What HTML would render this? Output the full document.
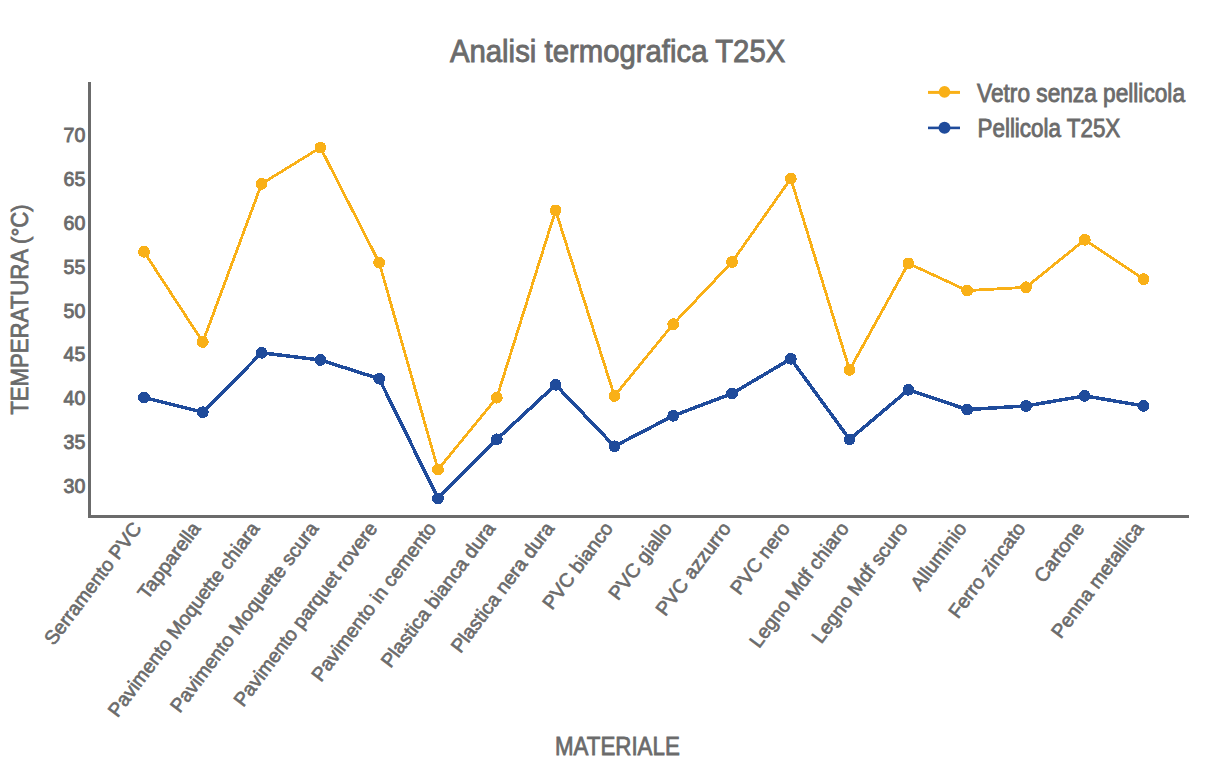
<!DOCTYPE html>
<html><head><meta charset="utf-8"><style>
html,body{margin:0;padding:0;background:#fff;width:1210px;height:774px;overflow:hidden}
svg{display:block}
text{font-family:"Liberation Sans",sans-serif;fill:#6b6b6b;stroke:#6b6b6b;stroke-width:0.65px}
</style></head><body>
<svg width="1210" height="774" viewBox="0 0 1210 774">
<rect width="1210" height="774" fill="#fff"/>

<text transform="translate(449.9,61.9) scale(0.92,1)" font-size="31.9" style="stroke-width:0.9px">Analisi termografica T25X</text>
<rect x="88" y="82" width="3" height="436" fill="#6b6b6b"/><rect x="88" y="515" width="1101" height="3" fill="#6b6b6b"/>
<text transform="translate(85.3,492.8) scale(0.96,1)" font-size="20.4" text-anchor="end" style="stroke-width:0.9px">30</text>
<text transform="translate(85.3,449.0) scale(0.96,1)" font-size="20.4" text-anchor="end" style="stroke-width:0.9px">35</text>
<text transform="translate(85.3,405.2) scale(0.96,1)" font-size="20.4" text-anchor="end" style="stroke-width:0.9px">40</text>
<text transform="translate(85.3,361.4) scale(0.96,1)" font-size="20.4" text-anchor="end" style="stroke-width:0.9px">45</text>
<text transform="translate(85.3,317.6) scale(0.96,1)" font-size="20.4" text-anchor="end" style="stroke-width:0.9px">50</text>
<text transform="translate(85.3,273.8) scale(0.96,1)" font-size="20.4" text-anchor="end" style="stroke-width:0.9px">55</text>
<text transform="translate(85.3,230.0) scale(0.96,1)" font-size="20.4" text-anchor="end" style="stroke-width:0.9px">60</text>
<text transform="translate(85.3,186.2) scale(0.96,1)" font-size="20.4" text-anchor="end" style="stroke-width:0.9px">65</text>
<text transform="translate(85.3,142.4) scale(0.96,1)" font-size="20.4" text-anchor="end" style="stroke-width:0.9px">70</text>
<text transform="translate(27.6,414.75) rotate(-90) scale(0.905,1)" font-size="24.5" style="stroke-width:0.8px">TEMPERATURA (°C)</text>
<text transform="translate(555,754.8) scale(0.865,1)" font-size="25.8" style="stroke-width:0.8px">MATERIALE</text>
<text transform="translate(142.5,528.6) rotate(-53)" font-size="19.5" text-anchor="end">Serramento PVC</text>
<text transform="translate(201.4,528.6) rotate(-53)" font-size="19.5" text-anchor="end">Tapparella</text>
<text transform="translate(260.4,528.6) rotate(-53)" font-size="19.5" text-anchor="end">Pavimento Moquette chiara</text>
<text transform="translate(319.3,528.6) rotate(-53)" font-size="19.5" text-anchor="end">Pavimento Moquette scura</text>
<text transform="translate(378.2,528.6) rotate(-53)" font-size="19.5" text-anchor="end">Pavimento parquet rovere</text>
<text transform="translate(437.1,528.6) rotate(-53)" font-size="19.5" text-anchor="end">Pavimento in cemento</text>
<text transform="translate(496.1,528.6) rotate(-53)" font-size="19.5" text-anchor="end">Plastica bianca dura</text>
<text transform="translate(555.0,528.6) rotate(-53)" font-size="19.5" text-anchor="end">Plastica nera dura</text>
<text transform="translate(613.9,528.6) rotate(-53)" font-size="19.5" text-anchor="end">PVC bianco</text>
<text transform="translate(672.9,528.6) rotate(-53)" font-size="19.5" text-anchor="end">PVC giallo</text>
<text transform="translate(731.8,528.6) rotate(-53)" font-size="19.5" text-anchor="end">PVC azzurro</text>
<text transform="translate(790.7,528.6) rotate(-53)" font-size="19.5" text-anchor="end">PVC nero</text>
<text transform="translate(849.7,528.6) rotate(-53)" font-size="19.5" text-anchor="end">Legno Mdf chiaro</text>
<text transform="translate(908.6,528.6) rotate(-53)" font-size="19.5" text-anchor="end">Legno Mdf scuro</text>
<text transform="translate(967.5,528.6) rotate(-53)" font-size="19.5" text-anchor="end">Alluminio</text>
<text transform="translate(1026.4,528.6) rotate(-53)" font-size="19.5" text-anchor="end">Ferro zincato</text>
<text transform="translate(1085.4,528.6) rotate(-53)" font-size="19.5" text-anchor="end">Cartone</text>
<text transform="translate(1144.3,528.6) rotate(-53)" font-size="19.5" text-anchor="end">Penna metallica</text>
<polyline points="144.0,251.8 202.8,342.0 261.6,183.8 320.4,147.6 379.2,262.6 438.0,469.6 496.8,397.7 555.6,210.4 614.4,396.0 673.2,324.1 732.0,262.1 790.8,178.6 849.6,369.9 908.4,263.4 967.2,290.6 1026.0,287.3 1084.8,239.8 1143.6,279.2" fill="none" stroke="#f9b017" stroke-width="2.8" stroke-linejoin="round" shape-rendering="crispEdges"/>
<polyline points="144.0,397.5 202.8,412.2 261.6,352.8 320.4,360.0 379.2,378.7 438.0,498.4 496.8,439.3 555.6,384.8 614.4,446.3 673.2,415.8 732.0,393.6 790.8,358.8 849.6,439.4 908.4,389.8 967.2,409.6 1026.0,405.9 1084.8,395.9 1143.6,405.9" fill="none" stroke="#1f4b9b" stroke-width="3.5" stroke-linejoin="round" shape-rendering="crispEdges"/>
<circle cx="144.0" cy="251.8" r="5.9" fill="#f9b017" shape-rendering="crispEdges"/>
<circle cx="202.8" cy="342.0" r="5.9" fill="#f9b017" shape-rendering="crispEdges"/>
<circle cx="261.6" cy="183.8" r="5.9" fill="#f9b017" shape-rendering="crispEdges"/>
<circle cx="320.4" cy="147.6" r="5.9" fill="#f9b017" shape-rendering="crispEdges"/>
<circle cx="379.2" cy="262.6" r="5.9" fill="#f9b017" shape-rendering="crispEdges"/>
<circle cx="438.0" cy="469.6" r="5.9" fill="#f9b017" shape-rendering="crispEdges"/>
<circle cx="496.8" cy="397.7" r="5.9" fill="#f9b017" shape-rendering="crispEdges"/>
<circle cx="555.6" cy="210.4" r="5.9" fill="#f9b017" shape-rendering="crispEdges"/>
<circle cx="614.4" cy="396.0" r="5.9" fill="#f9b017" shape-rendering="crispEdges"/>
<circle cx="673.2" cy="324.1" r="5.9" fill="#f9b017" shape-rendering="crispEdges"/>
<circle cx="732.0" cy="262.1" r="5.9" fill="#f9b017" shape-rendering="crispEdges"/>
<circle cx="790.8" cy="178.6" r="5.9" fill="#f9b017" shape-rendering="crispEdges"/>
<circle cx="849.6" cy="369.9" r="5.9" fill="#f9b017" shape-rendering="crispEdges"/>
<circle cx="908.4" cy="263.4" r="5.9" fill="#f9b017" shape-rendering="crispEdges"/>
<circle cx="967.2" cy="290.6" r="5.9" fill="#f9b017" shape-rendering="crispEdges"/>
<circle cx="1026.0" cy="287.3" r="5.9" fill="#f9b017" shape-rendering="crispEdges"/>
<circle cx="1084.8" cy="239.8" r="5.9" fill="#f9b017" shape-rendering="crispEdges"/>
<circle cx="1143.6" cy="279.2" r="5.9" fill="#f9b017" shape-rendering="crispEdges"/>
<circle cx="144.0" cy="397.5" r="5.9" fill="#1f4b9b" shape-rendering="crispEdges"/>
<circle cx="202.8" cy="412.2" r="5.9" fill="#1f4b9b" shape-rendering="crispEdges"/>
<circle cx="261.6" cy="352.8" r="5.9" fill="#1f4b9b" shape-rendering="crispEdges"/>
<circle cx="320.4" cy="360.0" r="5.9" fill="#1f4b9b" shape-rendering="crispEdges"/>
<circle cx="379.2" cy="378.7" r="5.9" fill="#1f4b9b" shape-rendering="crispEdges"/>
<circle cx="438.0" cy="498.4" r="5.9" fill="#1f4b9b" shape-rendering="crispEdges"/>
<circle cx="496.8" cy="439.3" r="5.9" fill="#1f4b9b" shape-rendering="crispEdges"/>
<circle cx="555.6" cy="384.8" r="5.9" fill="#1f4b9b" shape-rendering="crispEdges"/>
<circle cx="614.4" cy="446.3" r="5.9" fill="#1f4b9b" shape-rendering="crispEdges"/>
<circle cx="673.2" cy="415.8" r="5.9" fill="#1f4b9b" shape-rendering="crispEdges"/>
<circle cx="732.0" cy="393.6" r="5.9" fill="#1f4b9b" shape-rendering="crispEdges"/>
<circle cx="790.8" cy="358.8" r="5.9" fill="#1f4b9b" shape-rendering="crispEdges"/>
<circle cx="849.6" cy="439.4" r="5.9" fill="#1f4b9b" shape-rendering="crispEdges"/>
<circle cx="908.4" cy="389.8" r="5.9" fill="#1f4b9b" shape-rendering="crispEdges"/>
<circle cx="967.2" cy="409.6" r="5.9" fill="#1f4b9b" shape-rendering="crispEdges"/>
<circle cx="1026.0" cy="405.9" r="5.9" fill="#1f4b9b" shape-rendering="crispEdges"/>
<circle cx="1084.8" cy="395.9" r="5.9" fill="#1f4b9b" shape-rendering="crispEdges"/>
<circle cx="1143.6" cy="405.9" r="5.9" fill="#1f4b9b" shape-rendering="crispEdges"/>
<path d="M928,92.4 H960" stroke="#f9b017" stroke-width="3"/><circle cx="944.5" cy="91.9" r="5.8" fill="#f9b017"/>
<path d="M928,127.9 H960" stroke="#1f4b9b" stroke-width="2.6"/><circle cx="944.5" cy="127.7" r="6" fill="#1f4b9b"/>
<text transform="translate(977.1,101.6) scale(0.896,1)" font-size="25.3" style="stroke-width:0.85px">Vetro senza pellicola</text>
<text transform="translate(977.5,136.5) scale(0.893,1)" font-size="25.1" style="stroke-width:0.85px">Pellicola T25X</text>
</svg></body></html>
